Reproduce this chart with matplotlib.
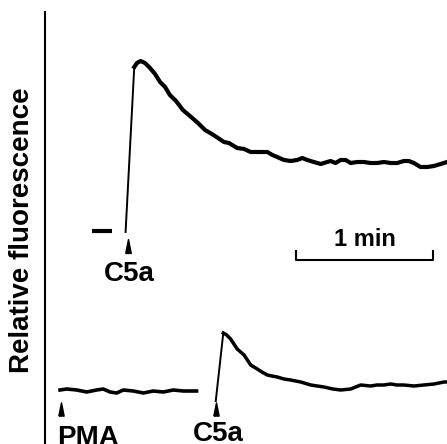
import numpy as np
import matplotlib
matplotlib.use('Agg')
from matplotlib import pyplot as plt

plt.rcParams['font.family'] = ['Liberation Sans', 'DejaVu Sans']
plt.rcParams['font.weight'] = 'bold'

# upper trace: second C5a pulse (time in s, fluorescence in arbitrary units)
upper_pre_t = [20.6, 29.3]
upper_pre_f = [0.0, 0.0]
upper_t = [35.3, 39.1, 40.3, 41.9, 43.8, 46.0, 48.2, 50.4, 52.6, 54.7,
           57.4, 60.4, 63.5, 67.0, 70.1, 73.1, 75.8, 78.4, 80.6, 82.0,
           84.2, 87.2, 90.1, 93.0, 97.4, 99.6, 101.7, 104.7, 107.6, 110.5,
           112.7, 114.9, 117.8, 120.8, 123.6, 125.1, 127.3, 129.5, 131.7, 133.9,
           136.8, 139.7, 142.6, 145.5, 148.5, 151.4, 154.3, 157.2, 159.4, 161.6,
           164.5, 167.4, 170.4, 173.3, 176.1]
upper_f = [-0.1, 16.4, 16.8, 17.0, 16.8, 16.3, 15.7, 14.9, 14.4, 13.6,
           13.0, 12.1, 11.5, 10.8, 10.1, 9.7, 9.3, 8.9, 8.8, 8.6,
           8.3, 8.2, 7.9, 7.9, 7.9, 7.6, 7.4, 7.1, 7.0, 7.1,
           7.3, 7.1, 6.9, 6.7, 6.9, 7.0, 6.8, 7.1, 7.1, 6.8,
           6.9, 6.9, 6.8, 6.8, 6.9, 6.8, 6.8, 7.0, 7.0, 6.8,
           6.4, 6.4, 6.5, 6.7, 6.9]
upper_offset = 15.9

# lower trace: PMA then C5a
lower_pre_t = [6.6, 9.5, 13.9, 18.3, 22.6, 25.5, 28.5, 31.4, 34.3, 38.7,
               43.1, 47.4, 51.8, 56.2, 60.6, 66.4]
lower_pre_f = [0.0, 0.1, 0.0, -0.2, 0.0, 0.1, -0.2, -0.3, 0.0, -0.1,
               -0.3, -0.1, -0.2, 0.0, -0.1, -0.1]
lower_t = [74.8, 78.1, 79.6, 81.3, 84.2, 87.2, 90.1, 93.0, 95.0, 97.4,
           99.4, 101.7, 104.7, 107.6, 112.0, 116.4, 122.2, 126.1, 129.5, 133.9,
           138.3, 142.6, 145.4, 148.5, 151.4, 154.2, 157.2, 161.6, 166.0, 170.4,
           174.8, 176.1]
lower_f = [-1.1, 5.7, 5.5, 5.1, 4.1, 3.5, 2.5, 2.1, 1.8, 1.5,
           1.4, 1.3, 1.1, 1.0, 0.8, 0.5, 0.3, 0.1, 0.0, 0.1,
           0.5, 0.4, 0.5, 0.5, 0.6, 0.5, 0.5, 0.4, 0.5, 0.6,
           0.8, 0.8]

# additions
upper_events = [36.2]
upper_labels = ['C5a']
lower_events = [6.9, 74.9]
lower_labels = ['PMA', 'C5a']

scale_start = 110
scale_len = 60  # s

fig = plt.figure(figsize=(4.47, 4.44), dpi=100)
ax = fig.add_axes([45 / 447, 0, 402 / 447, 432 / 444])
ax.set_xlim(0, 176.1)
ax.set_ylim(-5.4, 37.8)
for s in ['top', 'right', 'bottom']:
    ax.spines[s].set_visible(False)
ax.spines['left'].set_linewidth(1.5)
ax.set_xticks([])
ax.set_yticks([])

ut = np.array(upper_t)
uf = np.array(upper_f) + upper_offset
ax.plot(np.array(upper_pre_t), np.array(upper_pre_f) + upper_offset,
        color='black', lw=3.0, solid_capstyle='butt')
ax.plot(ut[:2], uf[:2], color='black', lw=1.4)
ax.plot(ut[1:], uf[1:], color='black', lw=3.0, solid_joinstyle='round')

lt = np.array(lower_t)
lf = np.array(lower_f)
ax.plot(lower_pre_t, lower_pre_f, color='black', lw=2.6)
ax.plot(lt[:2], lf[:2], color='black', lw=1.4)
ax.plot(lt[1:], lf[1:], color='black', lw=2.5, solid_joinstyle='round')

# event arrowheads
tri = [(-0.4, -1), (0.4, -1), (0, 1), (-0.4, -1)]
for t, lab in zip(upper_events, upper_labels):
    ax.plot(t, upper_offset - 1.5, marker=tri, ms=10, color='black')
    ax.text(t + 0.9, upper_offset - 5.0, lab, fontsize=20, ha='center',
            va='baseline')
for t, lab in zip(lower_events, lower_labels):
    ax.plot(t, -1.85, marker=tri, ms=9.5, color='black')
    if lab == 'PMA':
        ax.text(t - 1.8, -5.5, lab, fontsize=20, ha='left', va='baseline')
    else:
        ax.text(t + 1.1, -5.1, lab, fontsize=20, ha='center', va='baseline')

# 1 min scale bar
bar_y = 13.0
ax.plot([scale_start, scale_start, scale_start + scale_len, scale_start + scale_len],
        [bar_y + 0.85, bar_y, bar_y, bar_y + 0.85], color='black', lw=1.5)
ax.text(scale_start + scale_len / 2, bar_y + 1.4, '1 min', fontsize=17,
        ha='center', va='baseline')

fig.text(22 / 447, 1 - 230 / 444, 'Relative fluorescence', rotation=90,
         fontsize=20, ha='center', va='center')

fig.savefig('out.png', dpi=100)
